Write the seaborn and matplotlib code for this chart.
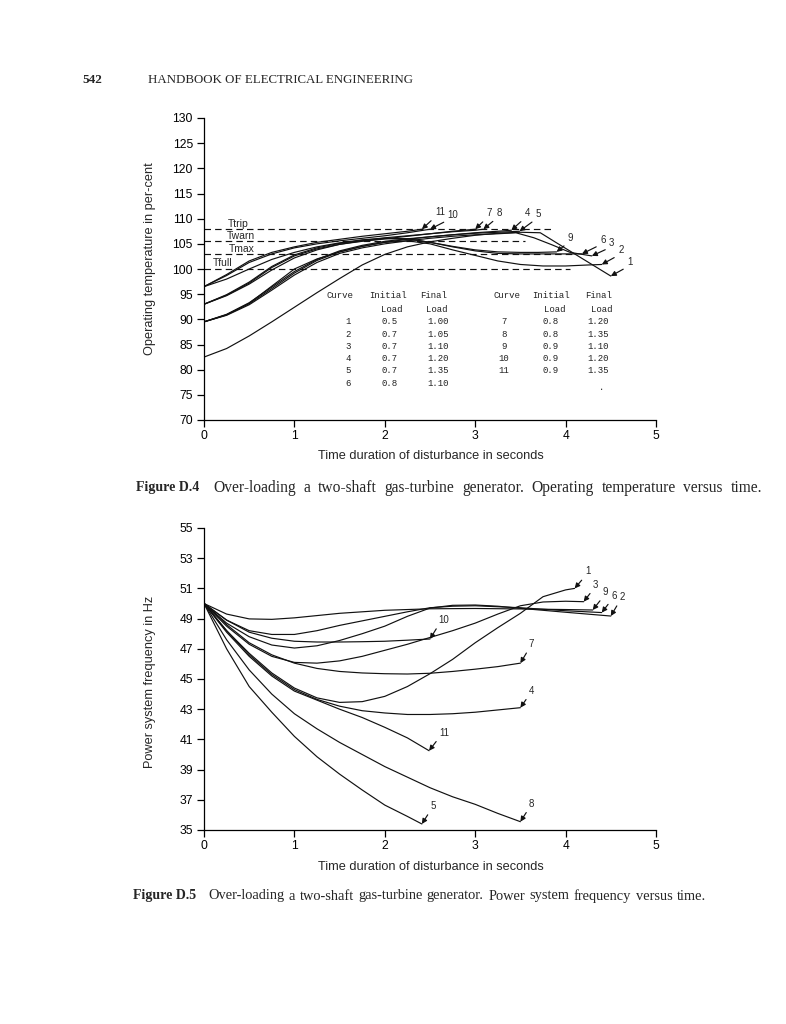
import matplotlib
matplotlib.use("Agg")
import matplotlib.pyplot as plt
import pandas as pd
import seaborn as sns

# ------------------------------------------------------------------ data
curve_ids = [1, 2, 3, 4, 5, 6, 7, 8, 9, 10, 11]
initial_load = ["0.5", "0.7", "0.7", "0.7", "0.7", "0.8", "0.8", "0.8", "0.9", "0.9", "0.9"]
final_load = ["1.00", "1.05", "1.10", "1.20", "1.35", "1.10", "1.20", "1.35", "1.10", "1.20", "1.35"]

limit_names = ["Ttrip", "Twarn", "Tmax", "Tfull"]
limit_values = [108.0, 105.5, 103.0, 100.0]
limit_end_time = [3.85, 3.55, 4.10, 4.05]

time_ticks = [0, 1, 2, 3, 4, 5]
temp_ticks = [70, 75, 80, 85, 90, 95, 100, 105, 110, 115, 120, 125, 130]
freq_ticks = [35, 37, 39, 41, 43, 45, 47, 49, 51, 53, 55]

# temperature (per-cent) versus time (s)
temp_t_1 = [0, 0.25, 0.5, 0.75, 1.0, 1.25, 1.5, 1.75, 2.0, 2.25, 2.5, 2.75, 3.0, 3.25, 3.5, 3.72, 3.9, 4.1, 4.3, 4.5]
temp_v_1 = [82.5, 84.2, 86.7, 89.5, 92.4, 95.3, 98.1, 100.8, 102.9, 104.4, 105.4, 106.1, 106.7, 107.1, 107.3, 107.2, 105.2, 103.0, 100.8, 98.6]
temp_t_2 = [0, 0.25, 0.5, 0.75, 1.0, 1.25, 1.5, 1.75, 2.0, 2.25, 2.5, 2.75, 3.0, 3.25, 3.5, 3.75, 4.0, 4.25, 4.4]
temp_v_2 = [89.5, 90.9, 93.2, 96.6, 100.0, 102.0, 103.4, 104.5, 105.3, 105.6, 105.0, 103.8, 102.7, 101.6, 100.9, 100.6, 100.6, 100.8, 100.9]
temp_t_3 = [0, 0.25, 0.5, 0.75, 1.0, 1.25, 1.5, 1.75, 2.0, 2.25, 2.5, 2.75, 3.0, 3.25, 3.45, 3.65, 3.85, 4.05, 4.29]
temp_v_3 = [89.5, 90.8, 92.9, 95.8, 98.8, 101.3, 103.1, 104.2, 105.0, 105.6, 106.1, 106.5, 106.8, 107.0, 107.2, 106.2, 104.8, 103.3, 102.6]
temp_t_4 = [0, 0.25, 0.5, 0.75, 1.0, 1.25, 1.5, 1.75, 2.0, 2.25, 2.5, 2.75, 3.0, 3.25, 3.4]
temp_v_4 = [89.5, 90.9, 93.1, 96.1, 99.2, 101.7, 103.4, 104.5, 105.3, 105.9, 106.4, 106.8, 107.2, 107.5, 107.7]
temp_t_5 = [0, 0.25, 0.5, 0.75, 1.0, 1.25, 1.5, 1.75, 2.0, 2.25, 2.5, 2.75, 3.0, 3.25, 3.49]
temp_v_5 = [89.5, 91.0, 93.3, 96.4, 99.5, 101.9, 103.6, 104.7, 105.5, 106.0, 106.4, 106.8, 107.1, 107.3, 107.5]
temp_t_6 = [0, 0.25, 0.5, 0.75, 1.0, 1.25, 1.5, 1.75, 2.0, 2.25, 2.5, 2.75, 3.0, 3.25, 3.5, 3.75, 4.0, 4.18]
temp_v_6 = [93.0, 94.7, 97.0, 99.8, 102.2, 103.8, 104.9, 105.6, 106.0, 106.0, 105.3, 104.4, 103.6, 103.1, 103.0, 103.0, 103.0, 103.0]
temp_t_7 = [0, 0.25, 0.5, 0.75, 1.0, 1.25, 1.5, 1.75, 2.0, 2.25, 2.5, 2.75, 3.0]
temp_v_7 = [93.0, 94.8, 97.2, 100.3, 102.6, 104.0, 104.9, 105.5, 106.0, 106.5, 107.0, 107.5, 107.9]
temp_t_8 = [0, 0.25, 0.5, 0.75, 1.0, 1.25, 1.5, 1.75, 2.0, 2.25, 2.5, 2.75, 3.0, 3.09]
temp_v_8 = [93.0, 94.9, 97.4, 100.5, 102.8, 104.2, 105.1, 105.7, 106.2, 106.6, 107.0, 107.4, 107.7, 107.9]
temp_t_9 = [0, 0.25, 0.5, 0.75, 1.0, 1.25, 1.5, 1.75, 2.0, 2.25, 2.5, 2.75, 3.0, 3.25, 3.5, 3.7, 3.9]
temp_v_9 = [96.5, 98.0, 100.0, 101.9, 103.3, 104.4, 105.2, 105.8, 106.1, 106.0, 105.3, 104.5, 103.8, 103.4, 103.3, 103.3, 103.4]
temp_t_10 = [0, 0.25, 0.5, 0.75, 1.0, 1.25, 1.5, 1.75, 2.0, 2.25, 2.5]
temp_v_10 = [96.5, 98.7, 101.3, 103.0, 104.2, 105.0, 105.6, 106.1, 106.6, 107.2, 107.9]
temp_t_11 = [0, 0.25, 0.5, 0.75, 1.0, 1.25, 1.5, 1.75, 2.0, 2.25, 2.41]
temp_v_11 = [96.5, 98.9, 101.6, 103.3, 104.4, 105.3, 105.9, 106.5, 107.0, 107.5, 107.9]

# frequency (Hz) versus time (s)
freq_t_1 = [0, 0.25, 0.5, 0.75, 1.0, 1.25, 1.5, 1.75, 2.0, 2.25, 2.5, 2.75, 3.0, 3.25, 3.5, 3.75, 4.0, 4.1]
freq_v_1 = [50.0, 48.2, 46.7, 45.4, 44.4, 43.75, 43.45, 43.5, 43.85, 44.5, 45.35, 46.3, 47.4, 48.4, 49.35, 50.45, 50.9, 51.0]
freq_t_2 = [0, 0.25, 0.5, 0.75, 1.0, 1.25, 1.5, 1.75, 2.0, 2.25, 2.5, 2.75, 3.0, 3.25, 3.5, 4.0, 4.5]
freq_v_2 = [50.0, 48.7, 47.8, 47.25, 47.05, 47.2, 47.55, 48.0, 48.5, 49.15, 49.7, 49.88, 49.9, 49.82, 49.68, 49.42, 49.17]
freq_t_3 = [0, 0.25, 0.5, 0.75, 1.0, 1.25, 1.5, 1.75, 2.0, 2.25, 2.5, 2.75, 3.0, 3.25, 3.5, 3.75, 4.0, 4.2]
freq_v_3 = [50.0, 48.5, 47.3, 46.5, 46.1, 46.05, 46.2, 46.5, 46.9, 47.3, 47.75, 48.2, 48.7, 49.3, 49.85, 50.1, 50.15, 50.12]
freq_t_4 = [0, 0.25, 0.5, 0.75, 1.0, 1.25, 1.5, 1.75, 2.0, 2.25, 2.5, 2.75, 3.0, 3.25, 3.5]
freq_v_4 = [50.0, 48.2, 46.6, 45.3, 44.3, 43.65, 43.2, 42.9, 42.75, 42.65, 42.65, 42.7, 42.8, 42.95, 43.1]
freq_t_5 = [0, 0.25, 0.5, 0.75, 1.0, 1.25, 1.5, 1.75, 2.0, 2.25, 2.41]
freq_v_5 = [50.0, 47.0, 44.5, 42.8, 41.2, 39.85, 38.7, 37.65, 36.65, 35.9, 35.4]
freq_t_6 = [0, 0.25, 0.5, 0.75, 1.0, 1.25, 1.5, 1.75, 2.0, 2.25, 2.5, 2.75, 3.0, 3.5, 4.0, 4.4]
freq_v_6 = [50.0, 48.9, 48.2, 47.95, 47.95, 48.2, 48.55, 48.85, 49.15, 49.45, 49.72, 49.82, 49.85, 49.72, 49.52, 49.4]
freq_t_7 = [0, 0.25, 0.5, 0.75, 1.0, 1.25, 1.5, 1.75, 2.0, 2.25, 2.5, 2.75, 3.0, 3.25, 3.5]
freq_v_7 = [50.0, 48.6, 47.4, 46.6, 46.05, 45.7, 45.5, 45.4, 45.35, 45.33, 45.38, 45.5, 45.65, 45.82, 46.05]
freq_t_8 = [0, 0.25, 0.5, 0.75, 1.0, 1.25, 1.5, 1.75, 2.0, 2.25, 2.5, 2.75, 3.0, 3.25, 3.5]
freq_v_8 = [50.0, 47.6, 45.6, 44.0, 42.7, 41.7, 40.8, 40.0, 39.2, 38.5, 37.8, 37.2, 36.7, 36.1, 35.55]
freq_t_9 = [0, 0.25, 0.5, 0.75, 1.0, 1.5, 2.0, 2.5, 3.0, 3.5, 4.0, 4.3]
freq_v_9 = [50.0, 49.3, 48.98, 48.95, 49.05, 49.35, 49.55, 49.65, 49.67, 49.64, 49.6, 49.57]
freq_t_10 = [0, 0.25, 0.5, 0.75, 1.0, 1.25, 1.5, 1.75, 2.0, 2.25, 2.5]
freq_v_10 = [50.0, 48.9, 48.1, 47.7, 47.5, 47.45, 47.45, 47.47, 47.5, 47.57, 47.65]
freq_t_11 = [0, 0.25, 0.5, 0.75, 1.0, 1.25, 1.5, 1.75, 2.0, 2.25, 2.49]
freq_v_11 = [50.0, 48.1, 46.5, 45.2, 44.2, 43.6, 43.0, 42.45, 41.8, 41.1, 40.25]

# ------------------------------------------------------------------ tables for seaborn
temp_series = [(temp_t_1, temp_v_1), (temp_t_2, temp_v_2), (temp_t_3, temp_v_3), (temp_t_4, temp_v_4),
               (temp_t_5, temp_v_5), (temp_t_6, temp_v_6), (temp_t_7, temp_v_7), (temp_t_8, temp_v_8),
               (temp_t_9, temp_v_9), (temp_t_10, temp_v_10), (temp_t_11, temp_v_11)]
freq_series = [(freq_t_1, freq_v_1), (freq_t_2, freq_v_2), (freq_t_3, freq_v_3), (freq_t_4, freq_v_4),
               (freq_t_5, freq_v_5), (freq_t_6, freq_v_6), (freq_t_7, freq_v_7), (freq_t_8, freq_v_8),
               (freq_t_9, freq_v_9), (freq_t_10, freq_v_10), (freq_t_11, freq_v_11)]


def long_table(series):
    parts = []
    for cid, (t, v) in zip(curve_ids, series):
        parts.append(pd.DataFrame({"curve": cid, "time": t, "value": v}))
    return pd.concat(parts, ignore_index=True)


df_temp = long_table(temp_series)
df_freq = long_table(freq_series)

# ------------------------------------------------------------------ style
sns.set_theme(style="ticks")
plt.rcParams["font.family"] = ["Liberation Sans", "DejaVu Sans"]
plt.rcParams["axes.linewidth"] = 0.9
plt.rcParams["xtick.major.width"] = 0.9
plt.rcParams["ytick.major.width"] = 0.9
plt.rcParams["xtick.major.size"] = 5
plt.rcParams["ytick.major.size"] = 5
plt.rcParams["xtick.color"] = "black"
plt.rcParams["ytick.color"] = "black"
plt.rcParams["axes.edgecolor"] = "black"

W, H = 786, 1024
fig = plt.figure(figsize=(W / 100, H / 100), dpi=100)
fig.patch.set_facecolor("white")


def fx(x):
    return x / W


def fy(y):
    return 1 - y / H


ax1 = fig.add_axes([fx(204), fy(420), fx(656) - fx(204), fy(118) - fy(420)])
ax2 = fig.add_axes([fx(204), fy(830), fx(656) - fx(204), fy(528) - fy(830)])

line_kw = dict(x="time", y="value", units="curve", estimator=None, sort=False,
               color="#111111", linewidth=0.85, legend=False)
sns.lineplot(data=df_temp, ax=ax1, **line_kw)
sns.lineplot(data=df_freq, ax=ax2, **line_kw)

for ax, yt in ((ax1, temp_ticks), (ax2, freq_ticks)):
    ax.set_xlim(time_ticks[0], time_ticks[-1])
    ax.set_ylim(yt[0], yt[-1])
    ax.set_xticks(time_ticks)
    ax.set_yticks(yt)
    ax.set_xlabel("")
    ax.set_ylabel("")
    ax.tick_params(axis="both", direction="out", labelsize=8.7, colors="black")
    ax.tick_params(axis="y", pad=3)
    ax.tick_params(axis="x", pad=2)
    sns.despine(ax=ax)
    ax.set_facecolor("white")

# threshold lines
label_pos = {"Ttrip": (0.26, 108.9), "Twarn": (0.25, 106.6), "Tmax": (0.27, 104.0), "Tfull": (0.10, 101.1)}
for name, val, tend in zip(limit_names, limit_values, limit_end_time):
    ax1.plot([0, tend], [val, val], color="#111111", lw=0.85, linestyle=(0, (5.5, 3.5)))
    px, py = label_pos[name]
    ax1.text(px, py, name, fontsize=7.5, ha="left", va="center")

# curve-end labels with arrows
arrow_kw = dict(arrowstyle="-|>", color="#111111", lw=0.85, mutation_scale=7.5,
                shrinkA=0.5, shrinkB=0, relpos=(0.0, 0.0))
temp_offsets = {1: (19, 14), 2: (19, 14), 3: (20, 13), 4: (16, 17), 5: (19, 17), 6: (21, 14),
                7: (14, 16), 8: (16, 16), 9: (14, 14), 10: (23, 14), 11: (18, 17)}
freq_offsets = {1: (13, 17), 2: (11, 19), 3: (12, 17), 4: (11, 17), 5: (11, 18), 6: (12, 17),
                7: (11, 19), 8: (11, 18), 9: (13, 18), 10: (14, 19), 11: (15, 18)}
for ax, series, offs in ((ax1, temp_series, temp_offsets), (ax2, freq_series, freq_offsets)):
    for cid, (t, v) in zip(curve_ids, series):
        ax.annotate(str(cid), xy=(t[-1], v[-1]), xytext=offs[cid], textcoords="offset pixels",
                    fontsize=7, ha="center", va="center", arrowprops=arrow_kw)

# load table inside the temperature chart
mono = ["Liberation Mono", "DejaVu Sans Mono"]
tkw = dict(fontsize=6.5, family=mono, color="#222222", ha="center", va="center")
for cx_curve, cx_init, cx_final in ((340, 388, 434), (507, 551, 599)):
    fig.text(fx(cx_curve), fy(296), "Curve", **tkw)
    fig.text(fx(cx_init), fy(296), "Initial", **tkw)
    fig.text(fx(cx_final), fy(296), "Final", **tkw)
    fig.text(fx(cx_init + 4), fy(309), "Load", **tkw)
    fig.text(fx(cx_final + 3), fy(309), "Load", **tkw)
for i, (cid, il, fl) in enumerate(zip(curve_ids, initial_load, final_load)):
    if cid <= 6:
        row_y = 322 + 12.2 * i
        xs = (348, 390, 438)
    else:
        row_y = 322 + 12.2 * (i - 6)
        xs = (504, 551, 598)
    fig.text(fx(xs[0]), fy(row_y), str(cid), **tkw)
    fig.text(fx(xs[1]), fy(row_y), il, **tkw)
    fig.text(fx(xs[2]), fy(row_y), fl, **tkw)
fig.text(fx(602), fy(388), ".", **tkw)

# axis titles
fig.text(fx(150), fy(259), "Operating temperature in per-cent", rotation=90,
         fontsize=9.2, ha="center", va="center")
fig.text(fx(431), fy(456), "Time duration of disturbance in seconds", fontsize=9.2, ha="center", va="center")
fig.text(fx(150), fy(682), "Power system frequency in Hz", rotation=90,
         fontsize=9.2, ha="center", va="center")
fig.text(fx(431), fy(867), "Time duration of disturbance in seconds", fontsize=9.2, ha="center", va="center")

# page header and captions
serif = ["Liberation Serif", "DejaVu Serif"]
fig.text(fx(82), fy(80), "542", family=serif, fontsize=9.5, weight="bold", ha="left", va="center")
fig.text(fx(148), fy(80), "HANDBOOK OF ELECTRICAL ENGINEERING", family=serif, fontsize=9.3,
         ha="left", va="center")

renderer = fig.canvas.get_renderer()


def justified(text, x0, x1, y, size):
    """Draw words between x0 and x1 (pixels) with equal gaps, as in the typeset page."""
    words = text.split(" ")
    arts = [fig.text(0, fy(y), w, family=serif, fontsize=size, ha="left", va="center") for w in words]
    widths = [a.get_window_extent(renderer).width for a in arts]
    gap = (x1 - x0 - sum(widths)) / (len(words) - 1)
    x = x0
    for a, w in zip(arts, widths):
        a.set_x(fx(x))
        x += w + gap


fig.text(fx(136), fy(488), "Figure D.4", family=serif, fontsize=10, weight="bold", ha="left", va="center")
justified("Over-loading a two-shaft gas-turbine generator. Operating temperature versus time.",
          213, 762, 488, 11.2)
fig.text(fx(133), fy(896), "Figure D.5", family=serif, fontsize=10, weight="bold", ha="left", va="center")
justified("Over-loading a two-shaft gas-turbine generator. Power system frequency versus time.",
          208, 706, 896, 10.4)

fig.savefig("out.png", dpi=100, facecolor="white")
